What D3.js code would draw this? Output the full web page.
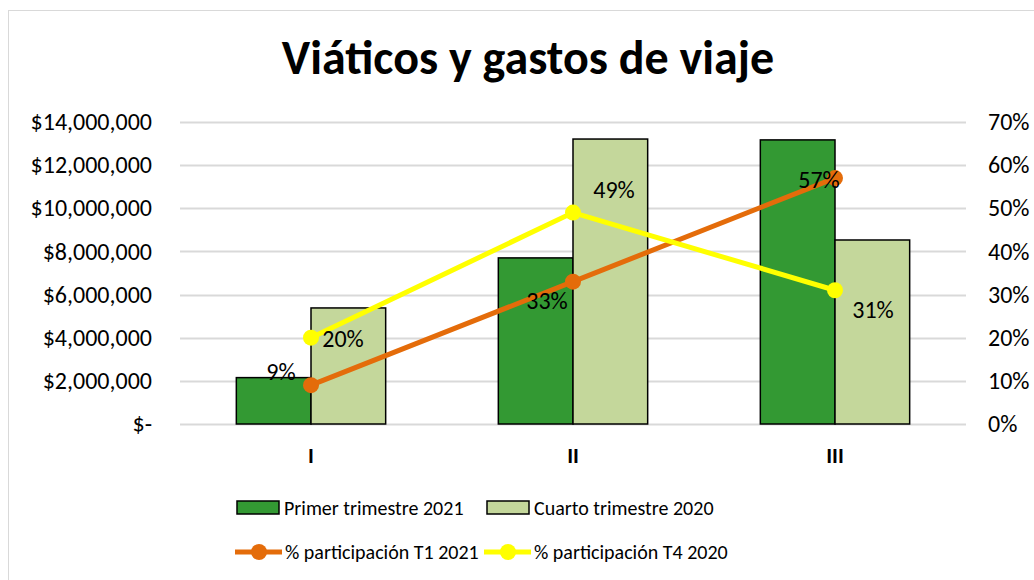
<!DOCTYPE html>
<html>
<head>
<meta charset="utf-8">
<script src="https://cdn.jsdelivr.net/npm/d3@7"></script>
<style>
  body { margin: 0; background: #fff; }
  svg text { font-family: Carlito, Calibri, "Open Sans", sans-serif; fill: #000; }
</style>
</head>
<body>
<div id="chart"></div>
<script>
// data
const categories = ["I", "II", "III"];
const primerT1 = [2150000, 7700000, 13170000];
const cuartoT4 = [5380000, 13210000, 8530000];
const pctT1 = [0.09, 0.33, 0.57];
const pctT4 = [0.20, 0.49, 0.31];
const seriesNames = ["Primer trimestre 2021", "Cuarto trimestre 2020", "% participación T1 2021", "% participación T4 2020"];
const leftTicks = [0, 2000000, 4000000, 6000000, 8000000, 10000000, 12000000, 14000000];
const rightTicks = [0, 0.1, 0.2, 0.3, 0.4, 0.5, 0.6, 0.7];

const width = 1034, height = 580;
const margin = { top: 122, right: 68, bottom: 156, left: 180 };
const fontSize = "24px";
const legendSize = "20px";
const fontFam = "Carlito, Calibri, 'Open Sans', sans-serif";

const svg = d3.select("#chart").append("svg")
    .attr("width", width)
    .attr("height", height);

// chart border (right and bottom edges fall outside the picture)
svg.append("rect")
    .attr("x", 8.5).attr("y", 10.5)
    .attr("width", 1040).attr("height", 600)
    .attr("fill", "#fff")
    .attr("stroke", "#d9d9d9");

// title
svg.append("text")
    .attr("x", 528).attr("y", 74)
    .attr("text-anchor", "middle")
    .style("font-size", "48px")
    .style("font-weight", "bold")
    .text("Viáticos y gastos de viaje");

const x = d3.scaleBand()
    .domain(categories)
    .range([margin.left, width - margin.right])
    .paddingInner(0.43)
    .paddingOuter(0.215);

const yLeft = d3.scaleLinear()
    .domain([0, 14000000])
    .range([height - margin.bottom, margin.top]);

const yRight = d3.scaleLinear()
    .domain([0, 0.7])
    .range([height - margin.bottom, margin.top]);

// gridlines
svg.append("g")
    .selectAll("line")
    .data(leftTicks)
    .enter()
    .append("line")
    .attr("x1", margin.left)
    .attr("x2", width - margin.right)
    .attr("y1", d => Math.round(yLeft(d)) + 0.5)
    .attr("y2", d => Math.round(yLeft(d)) + 0.5)
    .attr("stroke", "#d9d9d9")
    .attr("stroke-width", 2);

// left axis
const fmtMoney = d => d === 0 ? "$-" : "$" + d3.format(",")(d);
const leftAxis = svg.append("g")
    .attr("transform", `translate(${margin.left - 28},0)`)
    .call(d3.axisLeft(yLeft).tickValues(leftTicks).tickFormat(fmtMoney).tickSize(0).tickPadding(0));
leftAxis.select(".domain").remove();
leftAxis.selectAll("text").style("font-size", fontSize).style("font-family", fontFam);

// right axis
const rightAxis = svg.append("g")
    .attr("transform", `translate(${width - margin.right + 22},0)`)
    .call(d3.axisRight(yRight).tickValues(rightTicks).tickFormat(d3.format(".0%")).tickSize(0).tickPadding(0));
rightAxis.select(".domain").remove();
rightAxis.selectAll("text").style("font-size", fontSize).style("font-family", fontFam);

// bars
const half = x.bandwidth() / 2;
svg.append("g")
    .selectAll("rect")
    .data(categories)
    .enter()
    .append("rect")
    .attr("x", d => x(d))
    .attr("y", (d, i) => yLeft(primerT1[i]))
    .attr("width", half)
    .attr("height", (d, i) => yLeft(0) - yLeft(primerT1[i]))
    .attr("fill", "#339933")
    .attr("stroke", "#000")
    .attr("stroke-width", 1.5);

svg.append("g")
    .selectAll("rect")
    .data(categories)
    .enter()
    .append("rect")
    .attr("x", d => x(d) + half)
    .attr("y", (d, i) => yLeft(cuartoT4[i]))
    .attr("width", half)
    .attr("height", (d, i) => yLeft(0) - yLeft(cuartoT4[i]))
    .attr("fill", "#c4d79b")
    .attr("stroke", "#000")
    .attr("stroke-width", 1.5);

// category labels
svg.append("g")
    .selectAll("text")
    .data(categories)
    .enter()
    .append("text")
    .attr("x", d => x(d) + half)
    .attr("y", 463)
    .attr("text-anchor", "middle")
    .style("font-size", "22px")
    .style("font-weight", "bold")
    .text(d => d);

// lines
const cx = d => x(d) + half;
const line = vals => d3.line()
    .x(d => cx(d))
    .y((d, i) => yRight(vals[i]));

svg.append("path")
    .datum(categories)
    .attr("d", line(pctT1))
    .attr("fill", "none")
    .attr("stroke", "#e46c0a")
    .attr("stroke-width", 5);

svg.append("path")
    .datum(categories)
    .attr("d", line(pctT4))
    .attr("fill", "none")
    .attr("stroke", "#ffff00")
    .attr("stroke-width", 5);

svg.append("g")
    .selectAll("circle")
    .data(categories)
    .enter()
    .append("circle")
    .attr("cx", cx)
    .attr("cy", (d, i) => yRight(pctT1[i]))
    .attr("r", 8)
    .attr("fill", "#e46c0a");

svg.append("g")
    .selectAll("circle")
    .data(categories)
    .enter()
    .append("circle")
    .attr("cx", cx)
    .attr("cy", (d, i) => yRight(pctT4[i]))
    .attr("r", 8)
    .attr("fill", "#ffff00");

// data labels (offsets relative to point)
const t1Offsets = [[-30, -5], [-26, 27], [-16, 10]];
const t4Offsets = [[32, 1], [41, -23], [38, 19]];
const fmtPct = d3.format(".0%");

svg.append("g")
    .selectAll("text")
    .data(categories)
    .enter()
    .append("text")
    .attr("x", (d, i) => cx(d) + t1Offsets[i][0])
    .attr("y", (d, i) => yRight(pctT1[i]) + t1Offsets[i][1])
    .attr("text-anchor", "middle")
    .style("font-size", fontSize)
    .text((d, i) => fmtPct(pctT1[i]));

svg.append("g")
    .selectAll("text")
    .data(categories)
    .enter()
    .append("text")
    .attr("x", (d, i) => cx(d) + t4Offsets[i][0])
    .attr("y", (d, i) => yRight(pctT4[i]) + t4Offsets[i][1])
    .attr("text-anchor", "middle")
    .attr("dy", "0.35em")
    .style("font-size", fontSize)
    .text((d, i) => fmtPct(pctT4[i]));

// legend
const legend = svg.append("g").attr("class", "legend");
const barItems = [
    { name: seriesNames[0], color: "#339933", x: 237 },
    { name: seriesNames[1], color: "#c4d79b", x: 487 }
];
barItems.forEach(it => {
    legend.append("rect")
        .attr("x", it.x).attr("y", 501)
        .attr("width", 42).attr("height", 13)
        .attr("fill", it.color)
        .attr("stroke", "#000")
        .attr("stroke-width", 1.5);
    legend.append("text")
        .attr("x", it.x + 47).attr("y", 508)
        .attr("dy", "0.35em")
        .style("font-size", legendSize)
        .text(it.name);
});

const lineItems = [
    { name: seriesNames[2], color: "#e46c0a", x: 235 },
    { name: seriesNames[3], color: "#ffff00", x: 484 }
];
lineItems.forEach(it => {
    legend.append("line")
        .attr("x1", it.x).attr("x2", it.x + 47)
        .attr("y1", 552).attr("y2", 552)
        .attr("stroke", it.color)
        .attr("stroke-width", 5);
    legend.append("circle")
        .attr("cx", it.x + 24).attr("cy", 552)
        .attr("r", 8)
        .attr("fill", it.color);
    legend.append("text")
        .attr("x", it.x + 50).attr("y", 552)
        .attr("dy", "0.35em")
        .style("font-size", legendSize)
        .text(it.name);
});
</script>
</body>
</html>
